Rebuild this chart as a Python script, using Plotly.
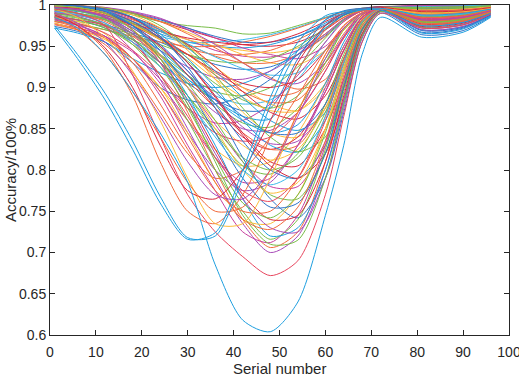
import plotly.graph_objects as go

serial_knots = [1, 6, 12, 18, 24, 30, 36, 42, 48, 54, 60, 64, 68, 72, 81, 90, 96]

# Axis tick values / labels
x_ticks = [0, 10, 20, 30, 40, 50, 60, 70, 80, 90, 100]
y_ticks = [0.6, 0.65, 0.7, 0.75, 0.8, 0.85, 0.9, 0.95, 1.0]
y_tick_text = ["0.6", "0.65", "0.7", "0.75", "0.8", "0.85", "0.9", "0.95", "1"]

# Accuracy curves
acc_deep = [0.985, 0.972, 0.94, 0.895, 0.845, 0.785, 0.685, 0.618, 0.604, 0.64, 0.745, 0.83, 0.94, 0.985, 0.961, 0.967, 0.985]
acc_a1 = [0.972, 0.935, 0.885, 0.825, 0.76, 0.716, 0.724, 0.8, 0.888, 0.955, 0.987, 0.992, 0.995, 0.996, 0.988, 0.99, 0.995]
acc_a2 = [0.975, 0.94, 0.893, 0.835, 0.768, 0.718, 0.72, 0.79, 0.878, 0.945, 0.982, 0.99, 0.994, 0.994, 0.975, 0.979, 0.99]
acc_r = [0.995, 0.99, 0.975, 0.915, 0.84, 0.77, 0.725, 0.695, 0.672, 0.69, 0.77, 0.865, 0.955, 0.99, 0.972, 0.976, 0.989]
acc_e1 = [0.99, 0.975, 0.945, 0.89, 0.81, 0.75, 0.735, 0.77, 0.84, 0.92, 0.97, 0.985, 0.993, 0.996, 0.985, 0.987, 0.994]
acc_e2 = [0.995, 0.985, 0.96, 0.92, 0.86, 0.79, 0.735, 0.735, 0.79, 0.87, 0.94, 0.97, 0.99, 0.996, 0.99, 0.992, 0.996]
acc_e4 = [0.988, 0.975, 0.948, 0.9, 0.83, 0.775, 0.765, 0.8, 0.86, 0.93, 0.975, 0.99, 0.995, 0.997, 0.992, 0.993, 0.997]
acc_e5 = [0.99, 0.978, 0.955, 0.915, 0.865, 0.81, 0.77, 0.765, 0.8, 0.865, 0.935, 0.972, 0.99, 0.996, 0.982, 0.985, 0.993]
acc_e6 = [0.985, 0.97, 0.94, 0.895, 0.84, 0.785, 0.75, 0.755, 0.8, 0.87, 0.94, 0.975, 0.991, 0.996, 0.978, 0.981, 0.991]
acc_d1 = [0.998, 0.995, 0.985, 0.96, 0.91, 0.85, 0.79, 0.735, 0.70, 0.72, 0.80, 0.885, 0.965, 0.993, 0.97, 0.974, 0.988]
acc_d2 = [0.999, 0.997, 0.99, 0.97, 0.93, 0.87, 0.80, 0.74, 0.706, 0.725, 0.81, 0.90, 0.97, 0.994, 0.976, 0.98, 0.991]
acc_d3 = [0.982, 0.975, 0.962, 0.935, 0.89, 0.83, 0.775, 0.725, 0.712, 0.745, 0.83, 0.91, 0.975, 0.995, 0.984, 0.986, 0.993]
acc_d4 = [0.99, 0.985, 0.975, 0.952, 0.915, 0.86, 0.80, 0.75, 0.716, 0.74, 0.825, 0.905, 0.972, 0.994, 0.98, 0.983, 0.992]
acc_d5 = [0.999, 0.998, 0.993, 0.975, 0.94, 0.89, 0.83, 0.765, 0.72, 0.73, 0.80, 0.88, 0.96, 0.992, 0.966, 0.971, 0.987]
acc_d6 = [0.978, 0.97, 0.958, 0.935, 0.9, 0.845, 0.785, 0.74, 0.735, 0.77, 0.85, 0.925, 0.98, 0.996, 0.988, 0.99, 0.995]
acc_d7 = [0.998, 0.996, 0.99, 0.97, 0.935, 0.885, 0.825, 0.77, 0.74, 0.745, 0.81, 0.89, 0.965, 0.993, 0.974, 0.978, 0.99]
acc_d8 = [0.994, 0.99, 0.982, 0.96, 0.925, 0.875, 0.815, 0.76, 0.742, 0.77, 0.845, 0.92, 0.978, 0.995, 0.986, 0.988, 0.994]
acc_d9 = [0.98, 0.973, 0.96, 0.93, 0.88, 0.825, 0.775, 0.75, 0.75, 0.79, 0.865, 0.935, 0.982, 0.996, 0.99, 0.991, 0.996]
acc_d10 = [1.0, 0.998, 0.992, 0.975, 0.945, 0.90, 0.845, 0.79, 0.755, 0.76, 0.82, 0.90, 0.97, 0.994, 0.969, 0.973, 0.988]
acc_d11 = [0.997, 0.994, 0.985, 0.965, 0.93, 0.88, 0.82, 0.765, 0.73, 0.725, 0.79, 0.875, 0.96, 0.992, 0.972, 0.976, 0.989]
acc_d12 = [0.986, 0.982, 0.975, 0.955, 0.915, 0.865, 0.815, 0.775, 0.762, 0.79, 0.86, 0.93, 0.98, 0.995, 0.983, 0.985, 0.993]
acc_d13 = [0.999, 0.997, 0.99, 0.97, 0.94, 0.90, 0.85, 0.80, 0.772, 0.785, 0.85, 0.92, 0.975, 0.995, 0.992, 0.993, 0.997]
acc_d14 = [0.992, 0.988, 0.978, 0.955, 0.925, 0.885, 0.84, 0.80, 0.782, 0.80, 0.865, 0.93, 0.98, 0.995, 0.987, 0.989, 0.995]
acc_d15 = [0.999, 0.997, 0.99, 0.97, 0.935, 0.88, 0.81, 0.745, 0.71, 0.715, 0.79, 0.88, 0.962, 0.992, 0.979, 0.982, 0.991]
acc_d16 = [0.976, 0.97, 0.96, 0.935, 0.895, 0.84, 0.785, 0.74, 0.728, 0.755, 0.835, 0.915, 0.975, 0.995, 0.981, 0.984, 0.992]
acc_m2a = [0.999, 0.997, 0.992, 0.98, 0.96, 0.93, 0.89, 0.845, 0.81, 0.805, 0.85, 0.91, 0.97, 0.994, 0.977, 0.98, 0.991]
acc_m2b = [0.988, 0.984, 0.976, 0.958, 0.93, 0.89, 0.845, 0.805, 0.795, 0.82, 0.88, 0.94, 0.982, 0.995, 0.99, 0.992, 0.996]
acc_m2c = [0.983, 0.976, 0.962, 0.935, 0.895, 0.845, 0.80, 0.775, 0.785, 0.83, 0.90, 0.95, 0.985, 0.996, 0.985, 0.987, 0.994]
acc_m2d = [0.998, 0.995, 0.985, 0.965, 0.935, 0.90, 0.86, 0.83, 0.812, 0.825, 0.875, 0.93, 0.978, 0.995, 0.994, 0.995, 0.998]
acc_m2e = [1.0, 0.999, 0.995, 0.985, 0.965, 0.935, 0.90, 0.86, 0.83, 0.822, 0.86, 0.92, 0.975, 0.994, 0.975, 0.979, 0.99]
acc_m2f = [0.978, 0.97, 0.952, 0.918, 0.87, 0.82, 0.79, 0.80, 0.84, 0.89, 0.945, 0.975, 0.99, 0.996, 0.989, 0.99, 0.995]
acc_m2g = [0.984, 0.978, 0.966, 0.945, 0.915, 0.875, 0.845, 0.835, 0.84, 0.87, 0.92, 0.96, 0.988, 0.996, 0.993, 0.994, 0.997]
acc_m2h = [0.999, 0.998, 0.993, 0.98, 0.96, 0.93, 0.895, 0.865, 0.845, 0.845, 0.88, 0.935, 0.98, 0.995, 0.982, 0.984, 0.992]
acc_m2i = [1.0, 0.999, 0.996, 0.99, 0.975, 0.95, 0.915, 0.875, 0.84, 0.822, 0.84, 0.90, 0.965, 0.993, 0.996, 0.997, 0.999]
acc_m2j = [0.991, 0.986, 0.974, 0.945, 0.905, 0.86, 0.815, 0.785, 0.79, 0.83, 0.895, 0.945, 0.985, 0.996, 0.988, 0.99, 0.995]
acc_m1a = [0.998, 0.994, 0.985, 0.965, 0.94, 0.91, 0.885, 0.865, 0.862, 0.92, 0.975, 0.99, 0.995, 0.997, 0.991, 0.992, 0.996]
acc_m1b = [0.987, 0.982, 0.972, 0.955, 0.93, 0.905, 0.885, 0.872, 0.875, 0.935, 0.982, 0.993, 0.996, 0.997, 0.995, 0.996, 0.998]
acc_m1c = [0.999, 0.997, 0.99, 0.978, 0.96, 0.94, 0.915, 0.895, 0.882, 0.885, 0.925, 0.96, 0.988, 0.996, 0.997, 0.998, 0.999]
acc_m1d = [0.981, 0.977, 0.97, 0.958, 0.94, 0.915, 0.895, 0.89, 0.90, 0.925, 0.96, 0.982, 0.993, 0.997, 0.993, 0.994, 0.997]
acc_m1e = [0.999, 0.996, 0.988, 0.975, 0.958, 0.94, 0.92, 0.905, 0.90, 0.91, 0.945, 0.972, 0.99, 0.996, 0.998, 0.998, 0.999]
acc_m1f = [0.993, 0.99, 0.982, 0.965, 0.945, 0.925, 0.912, 0.91, 0.92, 0.94, 0.965, 0.983, 0.993, 0.997, 0.996, 0.997, 0.999]
acc_m1g = [1.0, 0.998, 0.994, 0.985, 0.97, 0.95, 0.925, 0.90, 0.88, 0.872, 0.90, 0.945, 0.985, 0.996, 0.984, 0.986, 0.993]
acc_m1h = [0.998, 0.996, 0.99, 0.98, 0.968, 0.953, 0.937, 0.923, 0.915, 0.918, 0.945, 0.97, 0.99, 0.996, 0.998, 0.999, 1.0]
acc_m1i = [0.977, 0.972, 0.962, 0.943, 0.91, 0.875, 0.857, 0.86, 0.88, 0.915, 0.955, 0.98, 0.993, 0.997, 0.994, 0.995, 0.998]
acc_m1j = [1.0, 0.999, 0.996, 0.99, 0.98, 0.965, 0.948, 0.93, 0.912, 0.898, 0.91, 0.945, 0.985, 0.996, 0.986, 0.988, 0.994]
acc_m1k = [0.995, 0.993, 0.986, 0.972, 0.948, 0.915, 0.88, 0.857, 0.852, 0.875, 0.93, 0.97, 0.99, 0.996, 0.997, 0.998, 0.999]
acc_m1l = [0.974, 0.968, 0.955, 0.93, 0.90, 0.885, 0.88, 0.89, 0.91, 0.94, 0.97, 0.988, 0.995, 0.997, 0.978, 0.981, 0.991]
acc_s1 = [1.0, 0.999, 0.995, 0.988, 0.98, 0.975, 0.972, 0.965, 0.966, 0.975, 0.985, 0.992, 0.996, 0.998, 0.999, 0.999, 1.0]
acc_s2 = [1.0, 0.999, 0.996, 0.99, 0.98, 0.97, 0.96, 0.952, 0.95, 0.955, 0.97, 0.985, 0.994, 0.997, 0.998, 0.999, 1.0]
acc_s3 = [0.994, 0.992, 0.987, 0.978, 0.965, 0.955, 0.95, 0.948, 0.952, 0.962, 0.978, 0.99, 0.995, 0.997, 0.999, 0.999, 1.0]
acc_s4 = [1.0, 0.998, 0.993, 0.983, 0.97, 0.958, 0.945, 0.938, 0.937, 0.945, 0.965, 0.982, 0.993, 0.997, 1.0, 1.0, 1.0]
acc_s5 = [0.989, 0.987, 0.982, 0.975, 0.96, 0.947, 0.94, 0.94, 0.945, 0.958, 0.975, 0.988, 0.994, 0.997, 0.995, 0.996, 0.998]
acc_s6 = [1.0, 0.999, 0.997, 0.99, 0.98, 0.967, 0.953, 0.94, 0.93, 0.928, 0.945, 0.97, 0.99, 0.996, 0.997, 0.998, 0.999]
acc_s7 = [0.985, 0.982, 0.976, 0.966, 0.955, 0.94, 0.928, 0.922, 0.925, 0.94, 0.963, 0.982, 0.993, 0.997, 0.992, 0.993, 0.997]
acc_s8 = [0.983, 0.98, 0.974, 0.964, 0.952, 0.94, 0.932, 0.93, 0.935, 0.95, 0.972, 0.987, 0.994, 0.997, 0.998, 0.998, 0.999]
acc_s9 = [1.0, 0.999, 0.996, 0.991, 0.983, 0.972, 0.96, 0.948, 0.94, 0.935, 0.95, 0.972, 0.99, 0.996, 0.999, 1.0, 1.0]
acc_s10 = [0.996, 0.994, 0.99, 0.982, 0.968, 0.952, 0.938, 0.93, 0.93, 0.94, 0.962, 0.98, 0.993, 0.997, 0.996, 0.997, 0.999]
acc_s11 = [0.992, 0.99, 0.984, 0.973, 0.962, 0.955, 0.955, 0.958, 0.964, 0.973, 0.985, 0.992, 0.996, 0.998, 0.997, 0.998, 0.999]
acc_s12 = [0.998, 0.996, 0.99, 0.98, 0.968, 0.958, 0.95, 0.945, 0.942, 0.948, 0.965, 0.983, 0.993, 0.997, 0.993, 0.994, 0.997]
acc_x1 = [0.997, 0.993, 0.983, 0.965, 0.94, 0.905, 0.86, 0.81, 0.77, 0.765, 0.82, 0.895, 0.968, 0.994, 0.98, 0.982, 0.991]
acc_x2 = [1.0, 0.999, 0.995, 0.985, 0.962, 0.925, 0.875, 0.815, 0.765, 0.742, 0.79, 0.87, 0.955, 0.99, 0.964, 0.969, 0.986]
acc_x3 = [0.985, 0.98, 0.965, 0.935, 0.90, 0.86, 0.825, 0.805, 0.81, 0.845, 0.905, 0.95, 0.985, 0.996, 0.991, 0.992, 0.996]
acc_x4 = [1.0, 0.998, 0.994, 0.985, 0.972, 0.952, 0.925, 0.895, 0.87, 0.862, 0.89, 0.935, 0.982, 0.995, 0.983, 0.985, 0.993]
acc_x5 = [0.972, 0.966, 0.955, 0.935, 0.918, 0.905, 0.90, 0.905, 0.92, 0.945, 0.972, 0.988, 0.995, 0.997, 0.991, 0.992, 0.996]
acc_x6 = [0.999, 0.996, 0.988, 0.972, 0.95, 0.92, 0.885, 0.852, 0.832, 0.835, 0.875, 0.93, 0.978, 0.995, 0.987, 0.989, 0.995]
acc_x7 = [0.98, 0.976, 0.97, 0.962, 0.955, 0.95, 0.95, 0.955, 0.962, 0.972, 0.984, 0.992, 0.996, 0.998, 0.995, 0.996, 0.998]
acc_y1 = [0.999, 0.997, 0.99, 0.975, 0.95, 0.915, 0.875, 0.84, 0.825, 0.84, 0.895, 0.945, 0.985, 0.996, 0.981, 0.983, 0.992]
acc_y2 = [0.996, 0.993, 0.985, 0.968, 0.945, 0.915, 0.885, 0.86, 0.845, 0.855, 0.905, 0.955, 0.988, 0.996, 0.973, 0.977, 0.989]
acc_y3 = [1.0, 0.999, 0.996, 0.988, 0.972, 0.945, 0.91, 0.87, 0.845, 0.84, 0.875, 0.93, 0.978, 0.995, 0.989, 0.99, 0.995]
acc_y4 = [0.992, 0.988, 0.978, 0.958, 0.93, 0.9, 0.87, 0.85, 0.848, 0.87, 0.92, 0.962, 0.99, 0.996, 0.976, 0.979, 0.99]
acc_y5 = [0.998, 0.996, 0.99, 0.978, 0.958, 0.932, 0.905, 0.885, 0.875, 0.89, 0.935, 0.97, 0.99, 0.997, 0.995, 0.996, 0.998]
acc_y6 = [0.994, 0.99, 0.98, 0.962, 0.938, 0.908, 0.875, 0.845, 0.825, 0.83, 0.88, 0.935, 0.983, 0.995, 0.979, 0.982, 0.991]
acc_y7 = [0.999, 0.997, 0.99, 0.975, 0.952, 0.92, 0.88, 0.835, 0.8, 0.79, 0.83, 0.9, 0.97, 0.994, 0.967, 0.972, 0.987]
acc_y8 = [0.997, 0.994, 0.986, 0.968, 0.94, 0.9, 0.855, 0.81, 0.78, 0.78, 0.835, 0.905, 0.972, 0.995, 0.985, 0.987, 0.994]
acc_y9 = [0.99, 0.986, 0.976, 0.958, 0.935, 0.91, 0.89, 0.88, 0.885, 0.91, 0.955, 0.982, 0.994, 0.997, 0.996, 0.997, 0.999]
acc_y10 = [1.0, 0.999, 0.995, 0.984, 0.962, 0.93, 0.888, 0.842, 0.805, 0.79, 0.82, 0.885, 0.962, 0.993, 0.986, 0.988, 0.994]
acc_y11 = [0.986, 0.982, 0.972, 0.952, 0.925, 0.89, 0.85, 0.815, 0.8, 0.815, 0.87, 0.93, 0.98, 0.995, 0.973, 0.976, 0.989]
acc_y12 = [0.997, 0.995, 0.989, 0.976, 0.958, 0.936, 0.91, 0.888, 0.872, 0.872, 0.905, 0.95, 0.987, 0.996, 0.982, 0.984, 0.992]
acc_y13 = [1.0, 0.999, 0.997, 0.992, 0.984, 0.97, 0.952, 0.93, 0.91, 0.905, 0.93, 0.962, 0.99, 0.996, 0.99, 0.991, 0.996]
acc_y14 = [0.996, 0.994, 0.988, 0.976, 0.96, 0.94, 0.918, 0.9, 0.89, 0.895, 0.93, 0.965, 0.99, 0.997, 0.987, 0.989, 0.995]
acc_y15 = [0.999, 0.998, 0.994, 0.985, 0.97, 0.948, 0.92, 0.888, 0.86, 0.848, 0.87, 0.925, 0.978, 0.995, 0.97, 0.974, 0.988]
acc_y16 = [0.999, 0.998, 0.995, 0.99, 0.982, 0.972, 0.962, 0.955, 0.955, 0.962, 0.976, 0.988, 0.995, 0.998, 0.996, 0.997, 0.999]
acc_y17 = [0.99, 0.988, 0.984, 0.977, 0.968, 0.96, 0.955, 0.952, 0.955, 0.965, 0.98, 0.99, 0.995, 0.998, 0.994, 0.995, 0.998]

CYAN, BLUE, RED, PINK, ORANGE, YELLOW, PURPLE, MAGENTA, GREEN, LCYAN = (
    "#1E9FE0", "#2F74C8", "#D8283F", "#E8465E", "#F26A3C", "#FDBC3A",
    "#A84AB8", "#C83E9E", "#78BD48", "#3DBBEA")

curves = [
    (acc_s1, GREEN), (acc_s2, RED), (acc_s3, CYAN), (acc_s4, MAGENTA), (acc_s5, ORANGE),
    (acc_s6, YELLOW), (acc_s7, BLUE), (acc_s8, GREEN), (acc_s9, MAGENTA), (acc_s10, ORANGE),
    (acc_s11, LCYAN), (acc_s12, YELLOW), (acc_x7, ORANGE), (acc_x5, CYAN),
    (acc_y16, BLUE), (acc_y17, RED), (acc_y13, PURPLE), (acc_y14, ORANGE), (acc_y9, LCYAN),
    (acc_m1a, CYAN), (acc_m1b, BLUE), (acc_m1c, ORANGE), (acc_m1d, GREEN), (acc_m1e, RED),
    (acc_m1f, PURPLE), (acc_m1g, YELLOW), (acc_m1h, LCYAN), (acc_m1i, MAGENTA), (acc_m1j, ORANGE),
    (acc_m1k, GREEN), (acc_m1l, BLUE), (acc_x4, RED), (acc_x6, PURPLE), (acc_x3, YELLOW),
    (acc_y5, GREEN), (acc_y12, YELLOW), (acc_y4, PURPLE), (acc_y2, CYAN), (acc_y15, CYAN),
    (acc_y3, YELLOW), (acc_y1, RED), (acc_y6, ORANGE),
    (acc_m2a, RED), (acc_m2b, GREEN), (acc_m2c, PURPLE), (acc_m2d, YELLOW), (acc_m2e, CYAN),
    (acc_m2f, ORANGE), (acc_m2g, PINK), (acc_m2h, BLUE), (acc_m2i, GREEN), (acc_m2j, MAGENTA),
    (acc_y7, BLUE), (acc_y8, MAGENTA), (acc_y10, RED), (acc_y11, GREEN),
    (acc_x1, GREEN), (acc_x2, BLUE),
    (acc_d1, PURPLE), (acc_d2, ORANGE), (acc_d3, MAGENTA), (acc_d4, GREEN), (acc_d5, CYAN),
    (acc_d6, YELLOW), (acc_d7, RED), (acc_d8, GREEN), (acc_d9, ORANGE), (acc_d10, BLUE),
    (acc_d11, PURPLE), (acc_d12, PINK), (acc_d13, YELLOW), (acc_d14, LCYAN), (acc_d15, GREEN),
    (acc_d16, ORANGE),
    (acc_e1, ORANGE), (acc_e2, YELLOW), (acc_e4, RED), (acc_e5, PURPLE), (acc_e6, ORANGE),
    (acc_r, PINK), (acc_a1, CYAN), (acc_a2, CYAN), (acc_deep, CYAN),
]

fig = go.Figure()
for vals, col in curves:
    fig.add_trace(go.Scatter(
        x=serial_knots, y=vals, mode="lines",
        line=dict(color=col, width=1, shape="spline", smoothing=0.8),
        showlegend=False, hoverinfo="skip"))

FONT = "Liberation Sans, Arial, Helvetica, sans-serif"
INK = "#262626"
axis_common = dict(
    showline=True, linecolor=INK, linewidth=1, mirror="ticks",
    ticks="inside", ticklen=5, tickcolor=INK, tickwidth=1,
    showgrid=False, zeroline=False, automargin=False,
    ticklabeloverflow="allow",
    tickfont=dict(family=FONT, size=14, color=INK),
)
fig.update_layout(
    width=519, height=376,
    margin=dict(l=50, r=10, t=5, b=41),
    paper_bgcolor="white", plot_bgcolor="white",
    font=dict(family=FONT, color=INK),
    xaxis=dict(range=[0, 100], tickvals=x_ticks, ticklabelstandoff=4, **axis_common),
    yaxis=dict(range=[0.6, 1], tickvals=y_ticks, ticktext=y_tick_text, **axis_common),
    annotations=[
        dict(text="Serial number", xref="paper", yref="paper", x=0.5, y=-0.103,
             xanchor="center", yanchor="middle", showarrow=False,
             font=dict(family=FONT, size=15, color=INK)),
        dict(text="Accuracy/100%", xref="paper", yref="paper", x=-0.087, y=0.5,
             xanchor="center", yanchor="middle", textangle=-90, showarrow=False,
             font=dict(family=FONT, size=15, color=INK)),
    ],
)
fig.write_html(
    "out.html",
    config={"displayModeBar": False},
    post_script="document.body.style.margin='0px';document.body.style.overflow='hidden';",
)
